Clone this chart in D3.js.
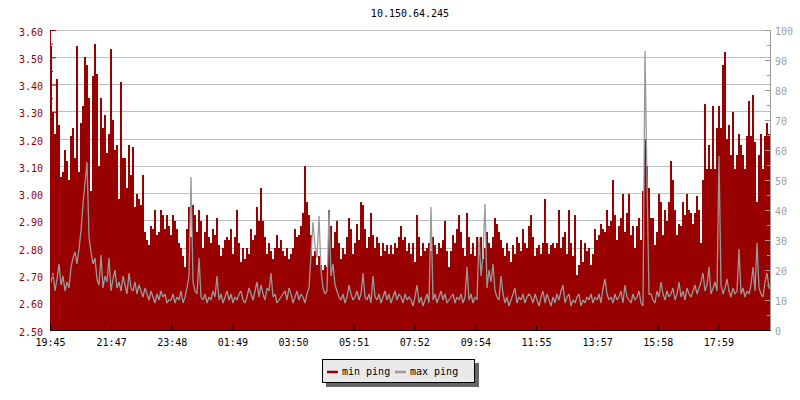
<!DOCTYPE html>
<html><head><meta charset="utf-8">
<script src="https://cdn.jsdelivr.net/npm/d3@7"></script>
<style>
body{margin:0;background:#fff}
svg{display:block}
text{font-family:"DejaVu Sans Mono",monospace;font-size:10px}
</style>
</head><body>
<svg id="chart" width="800" height="400"></svg>
<script>
const title = "10.150.64.245";
const seriesNames = ["min ping", "max ping"];
const startLabel = "19:45";
const spanMinutes = 1437;
const xTickLabels = ["19:45","21:47","23:48","01:49","03:50","05:51","07:52","09:54","11:55","13:57","15:58","17:59"];
const leftTicks = [2.50,2.60,2.70,2.80,2.90,3.00,3.10,3.20,3.30,3.40,3.50,3.60];
const rightTicks = [0,10,20,30,40,50,60,70,80,90,100];

// min ping (left axis, ms) one value per ~4 minutes
const minPing = [
3.54,3.30,3.22,3.42,3.25,3.06,3.08,3.16,3.12,3.05,
3.21,3.24,3.13,3.54,3.08,3.26,3.32,3.50,3.47,3.35,
3.01,3.43,3.55,3.44,3.10,3.35,3.24,3.29,3.15,3.22,
3.53,3.27,3.16,3.18,2.98,3.41,3.13,3.13,3.02,3.18,
3.07,3.17,2.95,3.00,2.98,2.96,3.07,2.86,2.83,2.81,
2.88,2.87,2.94,2.85,2.86,2.94,2.92,2.87,2.92,2.88,
2.85,2.92,2.90,2.87,2.82,2.80,2.77,2.73,2.87,2.95,
2.84,2.96,2.92,2.86,2.94,2.90,2.80,2.86,2.92,2.84,
2.82,2.87,2.85,2.91,2.81,2.77,2.80,2.83,2.84,2.83,
2.87,2.78,2.84,2.94,2.82,2.75,2.80,2.76,2.80,2.78,
2.87,2.83,2.85,2.95,2.90,3.02,2.90,2.84,2.78,2.82,
2.79,2.76,2.80,2.85,2.80,2.83,2.79,2.77,2.80,2.76,
2.78,2.80,2.87,2.84,2.85,2.88,2.93,3.10,2.97,2.92,
2.85,2.77,2.79,2.74,2.77,2.74,2.72,2.74,2.73,2.94,
2.88,2.80,2.86,2.90,2.82,2.76,2.80,2.78,2.84,2.91,
2.87,2.78,2.82,2.89,2.83,2.97,2.96,2.87,2.80,2.84,
2.93,2.85,2.80,2.84,2.82,2.77,2.82,2.79,2.81,2.78,
2.81,2.78,2.82,2.80,2.84,2.88,2.83,2.84,2.79,2.82,
2.78,2.82,2.75,2.92,2.84,2.77,2.82,2.79,2.80,2.82,
2.79,2.84,2.81,2.78,2.82,2.80,2.83,2.90,2.79,2.73,
2.79,2.85,2.82,2.87,2.92,2.86,2.80,2.77,2.93,2.84,
2.78,2.82,2.77,2.84,2.81,2.84,2.76,2.80,2.86,2.82,
2.80,2.84,2.91,2.89,2.86,2.83,2.80,2.77,2.82,2.79,
2.75,2.81,2.78,2.84,2.82,2.79,2.87,2.82,2.80,2.88,
2.92,2.84,2.77,2.80,2.81,2.78,2.82,2.98,2.82,2.78,
2.81,2.82,2.80,2.82,2.94,2.80,2.84,2.86,2.78,2.94,
2.82,2.77,2.92,2.70,2.74,2.83,2.75,2.82,2.79,2.80,
2.74,2.78,2.87,2.83,2.85,2.89,2.87,2.86,2.94,2.88,
2.90,3.05,2.92,2.83,2.88,2.91,3.00,2.86,2.93,3.00,
2.85,2.88,2.80,2.88,2.91,2.83,3.01,3.20,3.10,3.02,
2.91,2.91,2.81,2.86,3.00,2.97,2.85,2.94,2.90,2.97,
3.12,3.05,2.94,2.85,2.89,2.88,2.97,2.92,3.00,2.94,
2.93,2.89,2.93,2.99,2.94,2.82,3.05,3.33,3.09,3.18,
3.09,3.32,3.09,3.24,3.32,3.24,3.47,3.52,3.20,3.25,
3.14,3.30,3.09,3.14,3.22,3.18,3.14,3.09,3.21,3.34,
3.21,3.36,3.19,2.97,3.14,3.22,3.09,3.21,3.26,3.22
];

// max ping (right axis, ms)
const maxPing = [
16,19,13,17,22,15,18,13,16,14,
21,24,26,22,27,33,42,49,56,31,
26,22,24,17,15,25,14,18,16,24,
13,17,20,14,16,13,18,15,12,19,
14,13,16,12,15,13,11,14,12,10,
13,11,9,12,10,13,11,12,9,10,
10,12,9,11,10,13,9,11,14,18,
51,16,13,12,24,11,10,12,9,11,
10,13,11,18,10,12,9,11,13,10,
12,9,11,10,12,13,10,9,11,14,
12,10,13,16,11,15,12,10,14,13,
19,11,12,9,10,11,12,13,10,14,
12,9,11,13,10,12,11,9,12,14,
25,36,28,24,38,20,14,12,13,40,
18,22,15,13,11,10,12,9,11,15,
12,10,11,13,10,12,19,11,10,12,
9,18,11,10,12,9,11,13,10,12,
9,11,13,10,12,11,9,12,10,11,
10,8,11,15,9,11,8,10,12,9,
41,10,12,9,11,13,10,12,9,10,
11,12,9,11,10,12,9,11,21,10,
12,9,11,10,31,18,25,42,14,20,
16,22,13,11,10,18,12,9,11,8,
10,12,14,9,11,10,12,9,11,12,
11,9,12,10,8,11,13,9,12,10,
8,11,9,12,10,13,15,9,11,12,
8,10,9,11,12,8,10,9,11,10,
12,9,11,10,12,9,14,17,12,10,
11,9,12,10,11,13,9,15,11,10,
9,12,10,11,13,9,8,93,50,12,
12,10,9,13,11,16,12,10,13,11,
12,14,10,12,16,11,13,10,14,12,
11,13,15,12,14,16,19,13,15,21,
12,14,16,13,58,15,12,14,17,13,
11,14,12,13,27,12,14,11,13,12,
15,21,13,29,14,12,11,16,19,14
];

const RED = "#990000", GRAY = "#999999", FONT = "DejaVu Sans Mono, monospace";
const svg = d3.select("#chart");
const L = 50, R = 770, T = 30, B = 330;

const step = spanMinutes / minPing.length;
const toMin = s => { const [h, m] = s.split(":").map(Number); return h * 60 + m; };
const start = toMin(startLabel);
const tickMinutes = xTickLabels.map(s => { let d = toMin(s) - start; if (d < 0) d += 1440; return d; });

const x = d3.scaleLinear().domain([0, spanMinutes]).range([L, R]);
const yL = d3.scaleLinear().domain([2.5, 3.6]).range([B, T]);
const yR = d3.scaleLinear().domain([0, 100]).range([B, T]);

const minData = minPing.map((v, i) => ({t: i * step, v}));
minData.push({t: spanMinutes, v: minPing[minPing.length - 1]});
const maxData = maxPing.map((v, i) => ({t: i * step + step / 2, v}));
maxData.unshift({t: 0, v: maxPing[0]});
maxData.push({t: spanMinutes, v: maxPing[maxPing.length - 1]});

// grid
svg.append("g").selectAll("line").data(leftTicks.filter(d => d > 2.5)).join("line")
  .attr("x1", L).attr("x2", R)
  .attr("y1", d => Math.floor(yL(d)) + 0.5).attr("y2", d => Math.floor(yL(d)) + 0.5)
  .attr("stroke", "#bebebe").attr("stroke-width", 1);

// min ping area
svg.append("path").datum(minData)
  .attr("d", d3.area().curve(d3.curveStepAfter).x(d => x(d.t)).y0(B).y1(d => yL(d.v)))
  .attr("fill", RED).attr("shape-rendering", "crispEdges");

// max ping line
svg.append("path").datum(maxData)
  .attr("d", d3.line().x(d => x(d.t)).y(d => yR(d.v)))
  .attr("fill", "none").attr("stroke", GRAY).attr("stroke-width", 1.3)
  .attr("stroke-linejoin", "miter").attr("stroke-miterlimit", 2);

function styleAxis(g, color, textColor) {
  g.attr("font-family", FONT).attr("font-size", 10);
  g.select(".domain").attr("stroke", color);
  g.selectAll(".tick line").attr("stroke", color);
  g.selectAll(".tick text").attr("fill", textColor);
}

// left axis
const minorL = d3.range(leftTicks.length - 1).map(i => (leftTicks[i] + leftTicks[i + 1]) / 2);
svg.append("g").attr("transform", `translate(${L},0)`)
  .call(d3.axisLeft(yL).tickValues(minorL).tickSize(-3).tickFormat(""))
  .call(g => styleAxis(g, RED, RED));
svg.append("g").attr("transform", `translate(${L},0)`)
  .call(d3.axisLeft(yL).tickValues(leftTicks).tickFormat(d3.format(".2f")).tickSizeInner(-6).tickSizeOuter(0).tickPadding(7))
  .call(g => styleAxis(g, RED, RED))
  .call(g => g.selectAll(".tick text").attr("dy", "0.5em"));

// right axis
const minorR = d3.range(rightTicks.length - 1).map(i => (rightTicks[i] + rightTicks[i + 1]) / 2);
svg.append("g").attr("transform", `translate(${R},0)`)
  .call(d3.axisRight(yR).tickValues(minorR).tickSize(-3).tickFormat(""))
  .call(g => styleAxis(g, GRAY, GRAY));
svg.append("g").attr("transform", `translate(${R},0)`)
  .call(d3.axisRight(yR).tickValues(rightTicks).tickSizeInner(-5).tickSizeOuter(0).tickPadding(5))
  .call(g => styleAxis(g, GRAY, "#a0a0a0"))
  .call(g => g.selectAll(".tick text").attr("dy", "0.48em"));

// bottom axis
svg.append("g").attr("transform", `translate(0,${B})`)
  .call(d3.axisBottom(x).tickValues(tickMinutes).tickFormat((d, i) => xTickLabels[i]).tickSizeInner(-5).tickSizeOuter(0).tickPadding(9))
  .call(g => styleAxis(g, "#000", "#000"));

// title
svg.append("text").attr("x", (L + R) / 2).attr("y", 17).attr("text-anchor", "middle")
  .attr("fill", "#000").text(title);

// legend
const lg = svg.append("g");
lg.append("rect").attr("x", 326).attr("y", 363).attr("width", 153).attr("height", 24).attr("fill", "#666");
lg.append("rect").attr("x", 322.5).attr("y", 359.5).attr("width", 152).attr("height", 23)
  .attr("fill", "#e9e9e9").attr("stroke", "#000").attr("stroke-width", 1);
const colors = [RED, GRAY];
const itemX = [327, 395];
seriesNames.forEach((name, i) => {
  lg.append("line").attr("x1", itemX[i]).attr("x2", itemX[i] + 11).attr("y1", 372).attr("y2", 372)
    .attr("stroke", colors[i]).attr("stroke-width", 2.5);
  lg.append("text").attr("x", itemX[i] + 15).attr("y", 375).attr("fill", "#000").text(name);
});
</script>
</body></html>
